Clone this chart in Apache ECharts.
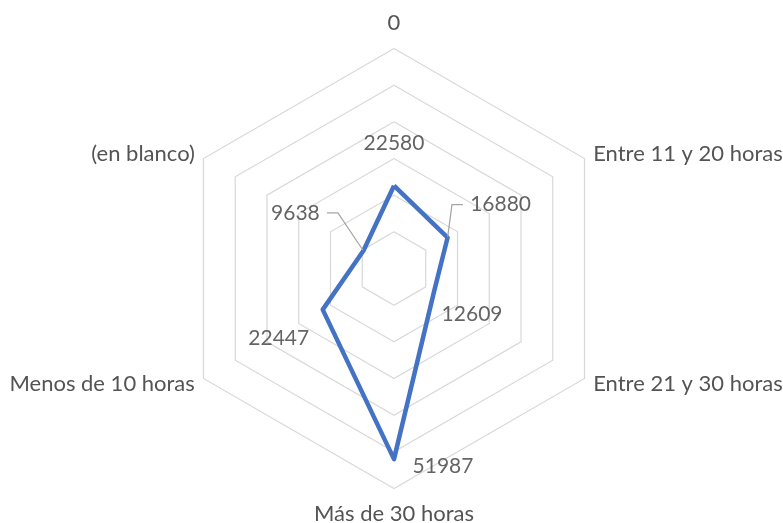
<!DOCTYPE html>
<html>
<head>
<meta charset="utf-8">
<script src="https://cdn.jsdelivr.net/npm/echarts@6/dist/echarts.min.js"></script>
<style>
  html, body { margin: 0; padding: 0; background: #ffffff; }
  #chart { width: 783px; height: 523px; }
</style>
</head>
<body>
<div id="chart"></div>
<script>
// Categories listed clockwise, starting from the top spoke
const categories = ['0', 'Entre 11 y 20 horas', 'Entre 21 y 30 horas', 'Más de 30 horas', 'Menos de 10 horas', '(en blanco)'];
const values = [22580, 16880, 12609, 51987, 22447, 9638];
const axisMax = 60000;
const ringCount = 6;

// Label placement around each vertex (pixels), and which labels get a leader line
const labelOffsets = [[0, -42], [53, -33], [38, 23], [49, 7], [-44, 29], [-68, -38]];
const withLeader = [false, true, false, false, false, true];
const leaderGap = 9;     // space between the text and the start of its leader line
const leaderFlat = 11;   // length of the horizontal part of a leader line

const center = [394, 268.5];
const radius = 220;
const font = 'Lato, "Open Sans", sans-serif';
const nameColor = '#545454';

// ECharts radar places indicators counter-clockwise; reorder so they read clockwise
const order = categories.map((_, i) => (categories.length - i) % categories.length);

// A label with a leader carries a blank spacer on the side facing its vertex,
// so the leader starts a little away from the digits
function labelText(v, i) {
  if (!withLeader[i]) return String(v);
  return labelOffsets[i][0] < 0 ? v + '{g| }' : '{g| }' + v;
}

function placeLabel(params) {
  const i = params.dataIndex;
  let dx = labelOffsets[i][0];
  if (withLeader[i]) dx += dx < 0 ? leaderGap / 2 : -leaderGap / 2;
  return { dx: dx, dy: labelOffsets[i][1] };
}

const chart = echarts.init(document.getElementById('chart'), null, { renderer: 'canvas' });

chart.setOption({
  animation: false,
  backgroundColor: '#ffffff',
  radar: {
    center: center,
    radius: radius,
    startAngle: 90,
    splitNumber: ringCount,
    shape: 'polygon',
    indicator: order.map(i => ({ name: categories[i], min: 0, max: axisMax })),
    nameGap: 10,
    axisName: {
      color: nameColor,
      fontFamily: font,
      fontSize: 22,
      formatter: function (name) {
        const idx = categories.indexOf(name);
        if (idx === 0) return '{up|' + name + '}';
        if (idx === 3) return '{down|' + name + '}';
        return name;
      },
      rich: {
        up: { color: nameColor, fontFamily: font, fontSize: 22, padding: [0, 0, 5, 0] },
        down: { color: nameColor, fontFamily: font, fontSize: 22, padding: [4, 0, 0, 0] }
      }
    },
    axisLine: { show: false },
    axisTick: { show: false },
    axisLabel: { show: false },
    splitArea: { show: false },
    splitLine: { lineStyle: { color: '#d9d9d9', width: 1.25 } }
  },
  polar: { center: center, radius: radius },
  angleAxis: {
    type: 'category',
    data: categories,
    boundaryGap: false,
    startAngle: 90,
    clockwise: true,
    axisLine: { show: false },
    axisTick: { show: false },
    axisLabel: { show: false },
    splitLine: { show: false }
  },
  radiusAxis: {
    type: 'value',
    min: 0,
    max: axisMax,
    axisLine: { show: false },
    axisTick: { show: false },
    axisLabel: { show: false },
    splitLine: { show: false }
  },
  series: [
    {
      type: 'radar',
      symbol: 'none',
      lineStyle: { color: '#4472C4', width: 4.5, join: 'round' },
      data: [{ value: order.map(i => values[i]) }]
    },
    {
      // Value labels, moved off each vertex; two of them keep a leader line
      type: 'scatter',
      coordinateSystem: 'polar',
      symbol: 'circle',
      symbolSize: 2,
      silent: true,
      itemStyle: { color: 'rgba(0,0,0,0)' },
      labelLayout: placeLabel,
      data: values.map((v, i) => ({
        value: [v, i],
        label: {
          show: true,
          position: 'inside',
          formatter: labelText(v, i),
          color: '#3d3d3d',
          fontFamily: font,
          fontSize: 21,
          rich: { g: { width: leaderGap, fontSize: 21, fontFamily: font } }
        },
        labelLine: {
          show: withLeader[i],
          length2: leaderFlat,
          lineStyle: { color: '#a6a6a6', width: 1.25 }
        }
      }))
    }
  ]
});
</script>
</body>
</html>
